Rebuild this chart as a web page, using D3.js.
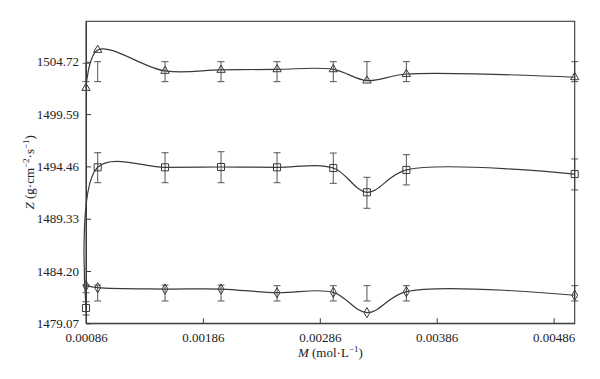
<!DOCTYPE html>
<html>
<head>
<meta charset="utf-8">
<script src="https://cdn.jsdelivr.net/npm/d3@7"></script>
<style>
  body { margin: 0; background: #fff; }
  svg { display: block; }
  text { font-family: "Liberation Serif", "DejaVu Serif", serif; fill: #222; }
</style>
</head>
<body>
<svg id="chart" width="600" height="379"></svg>
<script>
// ---- data ----
const concentrations = [0.00086, 0.00096, 0.001536, 0.002015, 0.002494, 0.002975, 0.003263, 0.0036, 0.00504];
const xTicks = [0.00086, 0.00186, 0.00286, 0.00386, 0.00486];
const yTicks = [1479.07, 1484.20, 1489.33, 1494.46, 1499.59, 1504.72];

const triangleZ   = [1502.15, 1505.88, 1503.82, 1503.92, 1503.98, 1503.98, 1502.87, 1503.52, 1503.20];
const triangleLo  = [1502.77, 1502.77, 1502.77, 1502.77, 1502.77, 1502.77, 1502.87, 1502.77, 1502.77];
const triangleHi  = [1504.57, 1504.73, 1504.73, 1504.73, 1504.73, 1504.73, 1504.73, 1504.73, 1504.73];

const squareZ  = [1480.57, 1494.37, 1494.37, 1494.40, 1494.37, 1494.30, 1491.92, 1494.11, 1493.71];
const squareLo = [1479.88, 1492.86, 1492.86, 1492.86, 1492.86, 1492.80, 1490.35, 1492.64, 1492.15];
const squareHi = [1481.19, 1495.80, 1495.80, 1495.90, 1495.80, 1495.77, 1493.39, 1495.61, 1495.19];

const diamondZ  = [1482.76, 1482.56, 1482.43, 1482.43, 1482.07, 1482.11, 1480.11, 1482.17, 1481.82];
const diamondLo = [1482.07, 1481.26, 1481.26, 1481.26, 1481.26, 1481.26, 1481.26, 1481.26, 1481.26];
const diamondHi = [1482.82, 1482.82, 1482.82, 1482.82, 1482.76, 1482.76, 1482.76, 1482.76, 1482.76];

// ---- layout ----
const mLeft = 86, mRight = 574.7, mTop = 21.3, mBottom = 323.3;
const svg = d3.select("#chart");
const x = d3.scaleLinear().domain([0.00086, 0.00504]).range([mLeft, mRight]);
const y = d3.scaleLinear().domain([1479.07, 1508.69]).range([mBottom, mTop]);
const ink = "#3a3a3a";

const series = [
  { z: triangleZ, lo: triangleLo, hi: triangleHi, shape: d3.symbolTriangle, size: 30 },
  { z: squareZ,   lo: squareLo,   hi: squareHi,   shape: d3.symbolSquare,   size: 50 },
  { z: diamondZ,  lo: diamondLo,  hi: diamondHi,  shape: d3.symbolDiamond,  size: 30 }
];

const line = d3.line()
  .x(d => x(d[0])).y(d => y(d[1]))
  .curve(d3.curveCatmullRom.alpha(0.5));

series.forEach(s => {
  const pts = concentrations.map((c, i) => [c, s.z[i], s.lo[i], s.hi[i]]);
  const g = svg.append("g");
  // error bars
  const eb = g.selectAll(".eb").data(pts).enter().append("g")
    .attr("stroke", "#555").attr("stroke-width", 1).attr("fill", "none");
  eb.append("line")
    .attr("x1", d => x(d[0])).attr("x2", d => x(d[0]))
    .attr("y1", d => y(d[2])).attr("y2", d => y(d[3]));
  eb.append("line")
    .attr("x1", d => x(d[0]) - 3.5).attr("x2", d => x(d[0]) + 3.5)
    .attr("y1", d => y(d[2])).attr("y2", d => y(d[2]));
  eb.append("line")
    .attr("x1", d => x(d[0]) - 3.5).attr("x2", d => x(d[0]) + 3.5)
    .attr("y1", d => y(d[3])).attr("y2", d => y(d[3]));
  // curve
  g.append("path").datum(pts)
    .attr("d", line)
    .attr("fill", "none").attr("stroke", ink).attr("stroke-width", 1.2);
  // markers
  g.selectAll(".m").data(pts).enter().append("path")
    .attr("transform", d => `translate(${x(d[0])},${y(d[1])})`)
    .attr("d", d3.symbol().type(s.shape).size(s.size))
    .attr("fill", "none").attr("stroke", ink).attr("stroke-width", 1);
});

// ---- frame ----
svg.append("rect")
  .attr("x", mLeft).attr("y", mTop)
  .attr("width", mRight - mLeft).attr("height", mBottom - mTop)
  .attr("fill", "none").attr("stroke", ink).attr("stroke-width", 1.1);

// ---- axes ----
const xAxis = d3.axisBottom(x).tickValues(xTicks).tickSizeInner(-5).tickSizeOuter(0)
  .tickPadding(9).tickFormat(d3.format(".5f"));
const gx = svg.append("g").attr("transform", `translate(0,${mBottom})`).call(xAxis);
gx.select(".domain").attr("stroke", ink);
gx.selectAll(".tick line").attr("stroke", ink);
gx.selectAll("text").attr("font-size", 13).attr("font-family", "Liberation Serif").attr("fill", "#222");

const yAxis = d3.axisLeft(y).tickValues(yTicks).tickSizeInner(-5).tickSizeOuter(0)
  .tickPadding(7).tickFormat(d3.format(".2f"));
const gy = svg.append("g").attr("transform", `translate(${mLeft},0)`).call(yAxis);
gy.select(".domain").attr("stroke", ink);
gy.selectAll(".tick line").attr("stroke", ink);
gy.selectAll("text").attr("font-size", 13).attr("font-family", "Liberation Serif").attr("fill", "#222");

// ---- axis titles ----
const xt = svg.append("text")
  .attr("x", (mLeft + mRight) / 2).attr("y", 357)
  .attr("text-anchor", "middle").attr("font-size", 13);
xt.append("tspan").attr("font-style", "italic").text("M");
xt.append("tspan").text(" (mol·L");
xt.append("tspan").attr("font-size", 9).attr("dy", -5).text("−1");
xt.append("tspan").attr("dy", 5).text(")");

const yt = svg.append("text")
  .attr("transform", `translate(34,${(mTop + mBottom) / 2}) rotate(-90)`)
  .attr("text-anchor", "middle").attr("font-size", 13);
yt.append("tspan").attr("font-style", "italic").text("Z");
yt.append("tspan").text(" (g·cm");
yt.append("tspan").attr("font-size", 9).attr("dy", -5).text("−2");
yt.append("tspan").attr("dy", 5).text("·s");
yt.append("tspan").attr("font-size", 9).attr("dy", -5).text("−1");
yt.append("tspan").attr("dy", 5).text(")");
</script>
</body>
</html>
